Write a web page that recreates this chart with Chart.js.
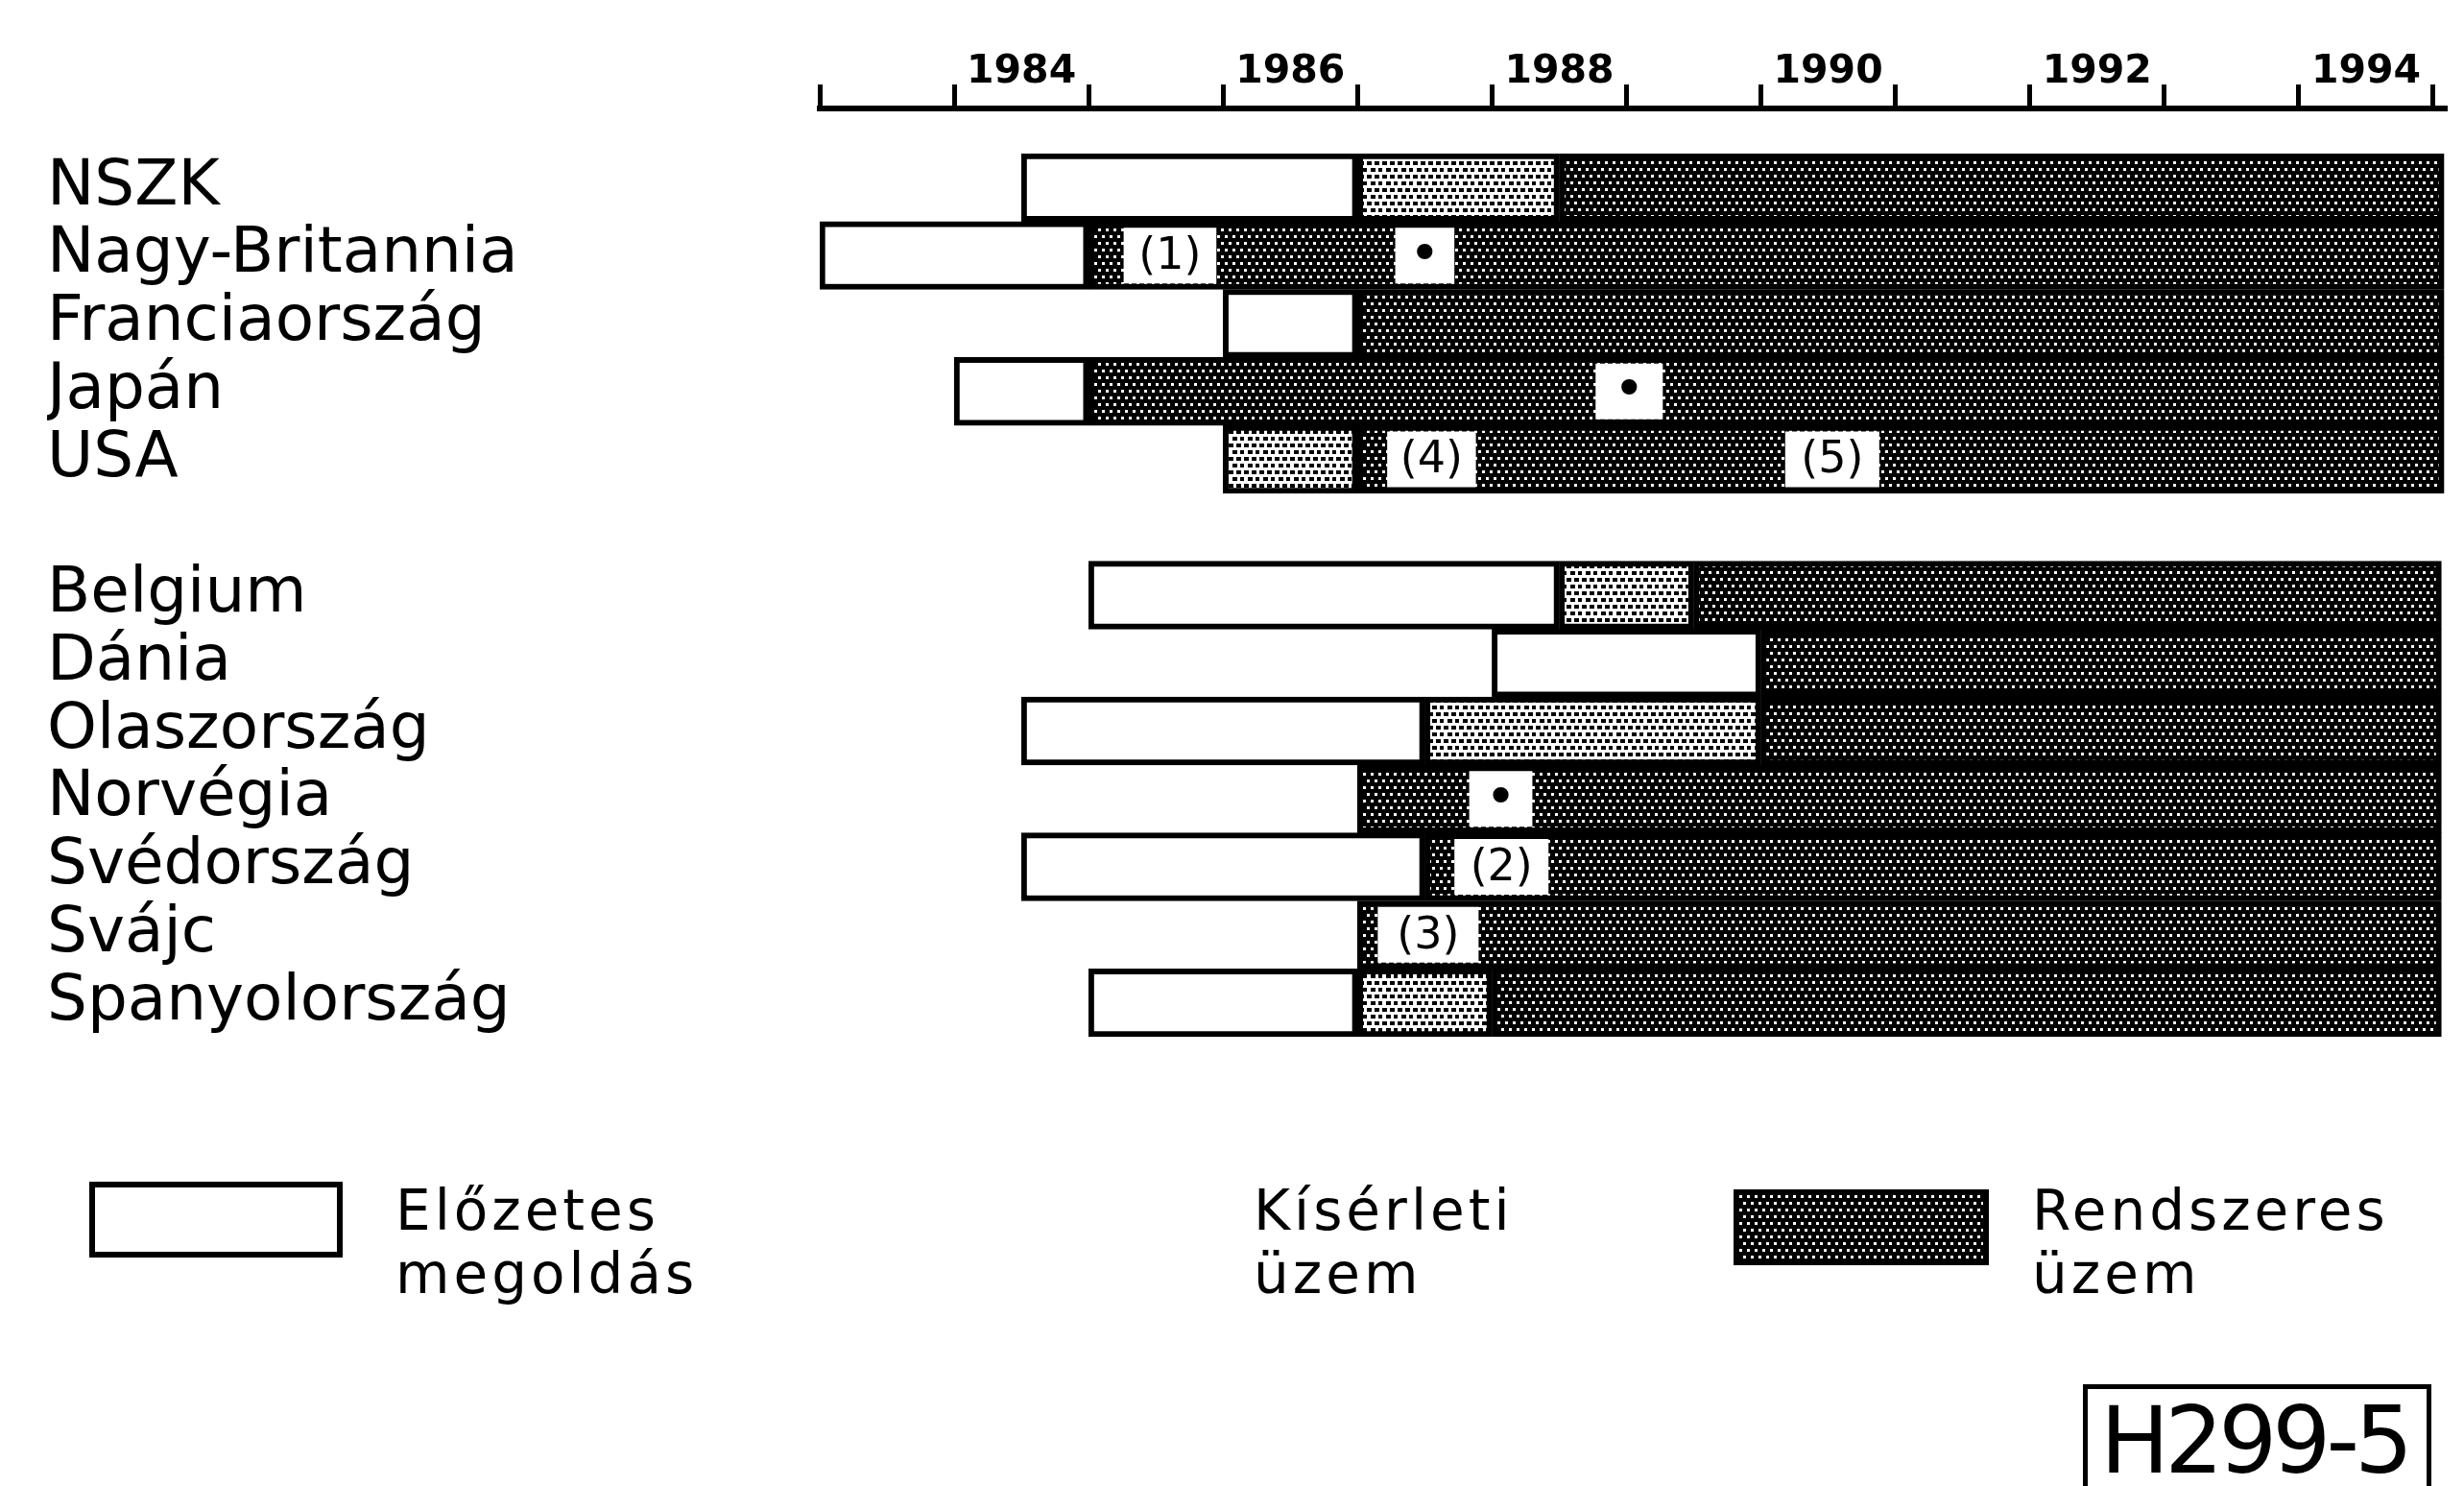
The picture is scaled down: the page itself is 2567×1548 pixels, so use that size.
<!DOCTYPE html>
<html>
<head>
<meta charset="utf-8">
<title>H299-5</title>
<script src="https://cdn.jsdelivr.net/npm/chart.js@4.4.1/dist/chart.umd.min.js"></script>
<style>
    html, body { margin: 0; padding: 0; background: #fff; overflow: hidden; }
    #wrap { position: relative; width: 2567px; height: 1548px; overflow: hidden; }
    #chart { position: absolute; left: 0; top: 0; }
    .lg { position: absolute; font-family: 'DejaVu Sans', sans-serif; font-size: 58px; line-height: 66px;
          letter-spacing: 4px; color: #000; white-space: nowrap; }
    .box { position: absolute; box-sizing: border-box; border: 6px solid #000; background: #fff; }
    #code { position: absolute; left: 2188px; top: 1453px; font-family: 'DejaVu Sans', sans-serif;
            font-size: 96px; line-height: 96px; color: #000; white-space: nowrap; letter-spacing: -5px; }
</style>
</head>
<body>
<div id="wrap">
    <canvas id="chart" width="2567" height="1548"></canvas>
    <div class="box" style="left:93px;top:1231px;width:264px;height:79px"></div>
    <div class="lg" style="left:412px;top:1228px">Előzetes<br>megoldás</div>
    <div class="lg" style="left:1306px;top:1228px">Kísérleti<br>üzem</div>
    <div class="box" id="swDark" style="left:1806px;top:1239px;width:266px;height:79px"></div>
    <div class="lg" style="left:2117px;top:1228px">Rendszeres<br>üzem</div>
    <div class="box" style="left:2170px;top:1442px;width:363px;height:160px;border-width:5px"></div>
    <div id="code">H299-5</div>
</div>
<script>
// sorok (országok), az üres sor a két csoport közti rés
var categories = ['NSZK', 'Nagy-Britannia', 'Franciaország', 'Japán', 'USA', '',
    'Belgium', 'Dánia', 'Olaszország', 'Norvégia', 'Svédország', 'Svájc', 'Spanyolország'];

// tengely: éves beosztás, feliratok a páros évek közepén
var tickYears = [1983, 1984, 1985, 1986, 1987, 1988, 1989, 1990, 1991, 1992, 1993, 1994, 1995];
var labelYears = [1984, 1986, 1988, 1990, 1992, 1994];

// Előzetes megoldás (fehér)
var prelim = [[1984.5, 1987], [1983, 1985], [1986, 1987], [1984, 1985], null, null,
    [1985, 1988.5], [1988, 1990], [1984.5, 1987.5], null, [1984.5, 1987.5], null, [1985, 1987]];

// Kísérleti üzem (világos raszter)
var trial = [[1987, 1988.5], null, null, null, [1986, 1987], null,
    [1988.5, 1989.5], null, [1987.5, 1990], null, null, null, [1987, 1988]];

// Rendszeres üzem (sötét raszter)
var regular = [[1988.5, 1995.08], [1985, 1995.08], [1987, 1995.08], [1985, 1995.08], [1987, 1995.08], null,
    [1989.5, 1995.06], [1990, 1995.06], [1990, 1995.06], [1987, 1995.06], [1987.5, 1995.06], [1987, 1995.06], [1988, 1995.06]];

// megjegyzés dobozok a sávokon belül
var noteA = [null, [1985.26, 1985.95], null, [1988.77, 1989.27], [1987.22, 1987.88], null,
    null, null, null, [1987.83, 1988.3], [1987.72, 1988.42], [1987.15, 1987.9], null];
var noteAText = ['', '(1)', '', '•', '(4)', '', '', '', '', '•', '(2)', '(3)', ''];
var noteB = [null, [1987.28, 1987.72], null, null, [1990.18, 1990.88], null,
    null, null, null, null, null, null, null];
var noteBText = ['', '•', '', '', '(5)', '', '', '', '', '', '', '', ''];

/**
 * raszter minta készítése (pontok rácsban, soronként eltolva)*/
function makeTile(bg, fg, w, h) {
    var c = document.createElement('canvas');
    c.width = 16;
    c.height = 14;
    var g = c.getContext('2d');
    g.fillStyle = bg;
    g.fillRect(0, 0, 16, 14);
    g.fillStyle = fg;
    g.fillRect(0, 0, w, h);
    g.fillRect(8, 0, w, h);
    g.fillRect(4, 7, w, h);
    g.fillRect(12, 7, w, h);
    return c;
}

var canvas = document.getElementById('chart');
var ctx = canvas.getContext('2d');
var darkTile = makeTile('#000', '#fff', 3, 3);
var lightTile = makeTile('#fff', '#000', 5, 4);
var darkPattern = ctx.createPattern(darkTile, 'repeat');
var lightPattern = ctx.createPattern(lightTile, 'repeat');
document.getElementById('swDark').style.backgroundImage = 'url(' + darkTile.toDataURL() + ')';

// feliratok a megjegyzés dobozokba
var notesLabels = {
    id: 'notesLabels',
    afterDatasetsDraw: function (chart) {
        var c = chart.ctx;
        c.save();
        c.fillStyle = '#000';
        c.textAlign = 'center';
        c.textBaseline = 'middle';
        chart.data.datasets.forEach(function (ds, di) {
            if (!ds.noteText) return;
            chart.getDatasetMeta(di).data.forEach(function (bar, i) {
                var t = ds.noteText[i];
                if (!t) return;
                c.font = (t === '•' ? '56px' : '46px') + ' "DejaVu Sans"';
                c.fillText(t, (bar.x + bar.base) / 2, bar.y + 2);
            });
        });
        c.restore();
    }
};

var common = {
    xAxisID: 'x',
    grouped: false,
    categoryPercentage: 1,
    barPercentage: 1,
    borderSkipped: false,
    borderColor: '#000',
    borderWidth: 6
};

var data = {
    labels: categories,
    datasets: [
        Object.assign({}, common, { label: 'megj1', data: noteA, noteText: noteAText, backgroundColor: '#fff', borderWidth: 0, barPercentage: 0.82, order: 0 }),
        Object.assign({}, common, { label: 'megj2', data: noteB, noteText: noteBText, backgroundColor: '#fff', borderWidth: 0, barPercentage: 0.82, order: 0 }),
        Object.assign({}, common, { label: 'Előzetes megoldás', data: prelim, backgroundColor: '#fff', order: 1 }),
        Object.assign({}, common, { label: 'Kísérleti üzem', data: trial, backgroundColor: lightPattern, order: 1 }),
        Object.assign({}, common, { label: 'Rendszeres üzem', data: regular, backgroundColor: darkPattern, order: 1 })
    ]
};

var config = {
    type: 'bar',
    data: data,
    plugins: [notesLabels],
    options: {
        indexAxis: 'y',
        responsive: false,
        animation: false,
        layout: { padding: { left: 49, top: 40, right: 18, bottom: 468 } },
        plugins: {
            legend: { display: false },
            tooltip: { enabled: false }
        },
        scales: {
            x: {
                type: 'linear',
                position: 'top',
                min: 1983,
                max: 1995.1,
                weight: 10,
                afterBuildTicks: function (s) {
                    var t = tickYears.map(function (v) { return { value: v }; });
                    labelYears.forEach(function (v) { t.push({ value: v + 0.5 }); });
                    t.sort(function (a, b) { return a.value - b.value; });
                    s.ticks = t;
                },
                afterFit: function (s) { s.height = 73; },
                grid: {
                    drawOnChartArea: false,
                    drawTicks: true,
                    tickLength: 25,
                    tickWidth: 5,
                    tickColor: function (c) {
                        return (c.tick && Number.isInteger(c.tick.value)) ? '#000' : 'rgba(0,0,0,0)';
                    }
                },
                border: { display: true, width: 6, color: '#000' },
                ticks: {
                    autoSkip: false,
                    maxRotation: 0,
                    minRotation: 0,
                    padding: 0,
                    color: '#000',
                    font: { family: 'DejaVu Sans', size: 41, weight: 'bold', lineHeight: 0.6 },
                    callback: function (v) {
                        return labelYears.indexOf(v - 0.5) >= 0 ? String(v - 0.5) : '';
                    }
                }
            },
            // üres sáv a tengely és az első sor között
            xpad: {
                type: 'linear',
                position: 'top',
                min: 1983,
                max: 1995.1,
                weight: 0,
                grid: { display: false },
                border: { display: false },
                ticks: { display: false },
                afterFit: function (s) { s.height = 47; }
            },
            y: {
                type: 'category',
                position: 'left',
                grid: { display: false },
                border: { display: false },
                afterFit: function (s) { s.width = 805; },
                ticks: {
                    crossAlign: 'far',
                    padding: 0,
                    autoSkip: false,
                    color: '#000',
                    font: { family: 'DejaVu Sans', size: 66 }
                }
            }
        }
    }
};

var myChart = new Chart(canvas, config);
</script>
</body>
</html>
